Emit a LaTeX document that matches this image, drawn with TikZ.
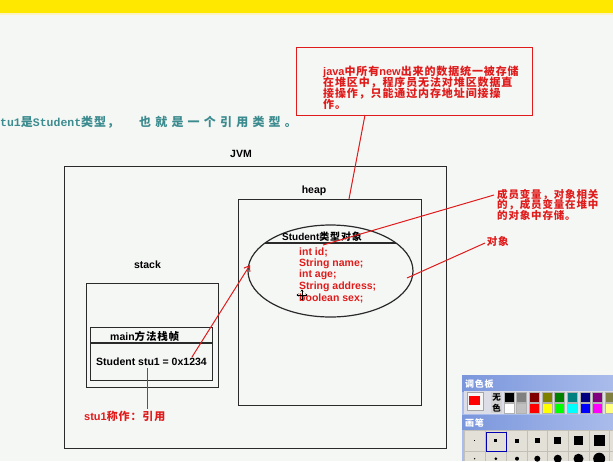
\documentclass[tikz,border=0pt]{standalone}
\usepackage{fontspec}
\setmainfont{Liberation Sans}
\newfontfamily\cjk{Noto Sans CJK SC}[LetterSpace=8]
\newfontfamily\cjkwide{Noto Sans CJK SC}[LetterSpace=35]
\newfontfamily\tmono{Liberation Mono}
\newcommand\zhtxt[1]{{\cjk #1}}
\usetikzlibrary{shapes.geometric,arrows.meta}
\definecolor{bgc}{RGB}{245,247,245}
\definecolor{topyellow}{RGB}{255,232,0}
\definecolor{paleyellow}{RGB}{251,243,196}
\definecolor{rd}{RGB}{224,27,27}
\definecolor{teal2}{RGB}{60,139,142}
\definecolor{ink}{RGB}{42,42,42}
\definecolor{winblue}{RGB}{122,150,220}
\definecolor{winlight}{RGB}{170,188,235}
\definecolor{panel}{RGB}{220,221,230}
\definecolor{cellc}{RGB}{227,224,215}
\definecolor{gridc}{RGB}{195,192,184}
\begin{document}
\begin{tikzpicture}[x=1pt,y=-1pt,
  box/.style={draw=ink, line width=1.2pt, inner sep=0pt, anchor=north west},
  rtxt/.style={text=rd, inner sep=0pt, anchor=base west, font=\bfseries\fontsize{11}{11}\selectfont},
  ktxt/.style={text=black, inner sep=0pt, anchor=base west, font=\bfseries\fontsize{10.5}{10.5}\selectfont},
  flds/.style={text=rd, inner sep=0pt, anchor=base west, font=\bfseries\fontsize{10.5}{10.5}\selectfont},
  rline/.style={draw=rd, line width=1pt},
  wtxt/.style={text=white, inner sep=0pt, anchor=base west, font=\bfseries\fontsize{9}{9}\selectfont}]
\useasboundingbox (0,0) rectangle (613,461);
\fill[fill=bgc] (0,0) rectangle (613,461);
\fill[fill=paleyellow] (0,12) rectangle (613,15);
\fill[fill=topyellow] (0,0) rectangle (613,13);

% intro text
\node[anchor=base west, inner sep=0pt, text=teal2, font=\bfseries\fontsize{12}{12}\selectfont] (intro) at (0,126.3)
  {{\tmono\fontsize{11.5}{12}\selectfont tu1}{\cjk 是}{\tmono\fontsize{11.5}{12}\selectfont Student}{\cjk 类型，}\hspace{20pt}{\cjkwide 也就是一个引用类型。}};

% callout
\node[draw=rd, line width=1.2pt, anchor=north west, minimum width=236, minimum height=68, inner sep=0pt] (note) at (296,47) {};
\node[rtxt] (note1) at (323,75.7) {java\zhtxt{中所有}new\zhtxt{出来的数据统一被存储}};
\node[rtxt] (note2) at (323,86.7) {\zhtxt{在堆区中，程序员无法对堆区数据直}};
\node[rtxt] (note3) at (323,97.7) {\zhtxt{接操作，只能通过内存地址间接操}};
\node[rtxt] (note4) at (323,108.7) {\zhtxt{作。}};

% JVM
\node[box, minimum width=382, minimum height=282] (jvm) at (64,166) {};
\node[ktxt, anchor=base] (jvmlbl) at (241,157.2) {JVM};

% heap
\node[box, minimum width=183, minimum height=206] (heap) at (238,199) {};
\node[ktxt, anchor=base] (heaplbl) at (314,193.5) {heap};
\coordinate (n1) at (365,115);
\coordinate (h1) at (349,199);
\draw[rline] (n1) -- (h1);

% object ellipse
\node[draw=ink, line width=1.2pt, ellipse, minimum width=165, minimum height=92, inner sep=0pt] (obj) at (330.5,271) {};
\begin{scope}
  \clip (330.5,271) ellipse [x radius=82.5pt, y radius=46pt];
  \draw[ink, line width=1.2pt] (240,243) -- (420,243);
\end{scope}
\node[ktxt, font=\bfseries\fontsize{10}{10}\selectfont] (objtitle) at (282,240.5) {Student\zhtxt{类型对象}};
\node[flds] (f1) at (299,255.4) {int id;};
\node[flds] (f2) at (299,266.4) {String name;};
\node[flds] (f3) at (299,277.7) {int age;};
\node[flds] (f4) at (299,289.7) {String address;};
\node[flds] (f5) at (299,301) {boolean sex;};
% cursor
\draw[black, line width=0.8pt, {Stealth[length=2pt,width=3pt]}-{Stealth[length=2pt,width=3pt]}] (296.5,295) -- (307.5,295);
\draw[black, line width=0.8pt, {Stealth[length=2pt,width=3pt]}-{Stealth[length=2pt,width=3pt]}] (302,289.5) -- (302,300.5);

% member annotation
\coordinate (m0) at (323,245);
\coordinate (m1) at (494,195);
\draw[rline] (m0) -- (m1);
\node[rtxt, font=\bfseries\fontsize{10.5}{10.5}\selectfont] (mem1) at (497,198) {\zhtxt{成员变量，对象相关}};
\node[rtxt, font=\bfseries\fontsize{10.5}{10.5}\selectfont] (mem2) at (497,208.5) {\zhtxt{的，成员变量在堆中}};
\node[rtxt, font=\bfseries\fontsize{10.5}{10.5}\selectfont] (mem3) at (497,219) {\zhtxt{的对象中存储。}};

% object annotation
\coordinate (o0) at (407,278);
\coordinate (o1) at (485,243);
\draw[rline] (o0) -- (o1);
\node[rtxt, font=\bfseries\fontsize{10.5}{10.5}\selectfont] (objlbl) at (486.7,245.7) {\zhtxt{对象}};

% stack
\node[ktxt, anchor=base] (stacklbl) at (147.5,268.7) {stack};
\node[box, minimum width=132, minimum height=104] (stack) at (86,283) {};
\node[box, minimum width=122, minimum height=53] (frame) at (90,327) {};
\draw[ink, line width=1.2pt] (frame.west |- 0,343) -- (frame.east |- 0,343);
\node[ktxt] (framelbl) at (110,340) {main\zhtxt{方法栈帧}};
\node[ktxt] (var) at (96,365.4) {Student stu1 = 0x1234};

% reference arrow
\coordinate (r0) at (192,357);
\coordinate (r1) at (250,265);
\draw[rline, -{Straight Barb[length=5pt,width=7pt]}] (r0) -- (r1);

% stu1 annotation
\coordinate (s0) at (147.3,368);
\coordinate (s1) at (147.3,409);
\draw[rline] (s0) -- (s1);
\node[rtxt] (reflbl) at (84,420.9) {stu1\zhtxt{称作：引用}};

% palette window
\fill[winlight] (462,375) rectangle (613,461);
\shade[left color=winblue, right color=winlight] (462,375) rectangle (613,391);
\node[wtxt] (paltitle) at (465,387.4) {\zhtxt{调色板}};
\fill[panel] (464,391) rectangle (613,414);
\fill[white!92!gray] (467,392) rectangle (483,410);
\draw[gray!70, line width=0.5pt] (467,392) rectangle (483,410);
\fill[red] (469,396) rectangle (480,405);
\fill[gray!35] (491,392) rectangle (502,413);
\node[inner sep=0pt, font=\bfseries\fontsize{8.5}{8.5}\selectfont, anchor=base] (wu) at (496.5,400) {\zhtxt{无}};
\node[inner sep=0pt, font=\bfseries\fontsize{8.5}{8.5}\selectfont, anchor=base] (se) at (496.5,411.3) {\zhtxt{色}};
\foreach \c [count=\i from 0] in {000000,808080,800000,808000,008000,008080,000080,800080,808040} {
  \definecolor{swc}{HTML}{\c}
  \fill[swc] (504+12.67*\i,392) rectangle ++(10,10);
  \draw[gray!60, line width=0.4pt] (504+12.67*\i,392) rectangle ++(10,10);
}
\foreach \c [count=\i from 0] in {FFFFFF,C0C0C0,FF0000,FFFF00,00FF00,00FFFF,0000FF,FF00FF,FFFF80} {
  \definecolor{swc}{HTML}{\c}
  \fill[swc] (504+12.67*\i,402.7) rectangle ++(10,10);
  \draw[gray!60, line width=0.4pt] (504+12.67*\i,402.7) rectangle ++(10,10);
}
\shade[left color=winblue, right color=winlight] (462,415) rectangle (613,429);
\node[wtxt] (brushtitle) at (465,426.4) {\zhtxt{画笔}};
\fill[cellc] (464,430) rectangle (613,461);
\foreach \gx in {464.3,485,506.7,527.3,547.3,568,589,609.3} {
  \draw[gridc, line width=0.6pt] (\gx,430) -- (\gx,461);
}
\draw[gridc, line width=0.6pt] (464,451.7) -- (613,451.7);
\draw[gridc, line width=0.6pt] (464,430.5) -- (613,430.5);
\draw[blue!70!black, line width=1pt] (486,432.5) rectangle (506,451);
\foreach \cx/\s in {474.7/1.5,495.9/3,517/4,537.3/5,557.7/7,578.5/9,599.2/11} {
  \fill[black] (\cx-\s/2,440.7-\s/2) rectangle (\cx+\s/2,440.7+\s/2);
}
\foreach \cx/\s in {474.7/1.5,495.9/3,517/4,537.3/6,557.7/8,578.5/10,599.2/12} {
  \fill[black] (\cx,458.7) circle[radius=\s*0.5pt];
}
\end{tikzpicture}
\end{document}
